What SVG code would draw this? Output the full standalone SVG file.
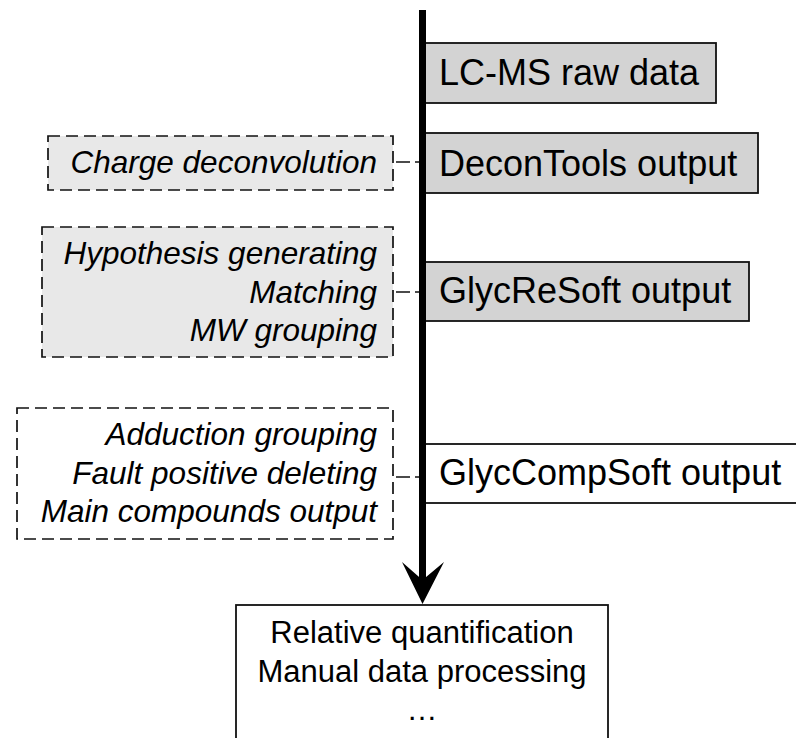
<svg xmlns="http://www.w3.org/2000/svg" width="796" height="738" viewBox="0 0 796 738">
<style>
  .out { fill: #d3d3d3; stroke: #111; stroke-width: 1.8; }
  .wbox { fill: #ffffff; stroke: #111; stroke-width: 1.8; }
  .dash { fill: #e8e8e8; stroke: #111; stroke-width: 1.7; stroke-dasharray: 12 6; }
  .dashw { fill: #ffffff; stroke: #111; stroke-width: 1.7; stroke-dasharray: 12 6; }
  .lbl { font-family: "Liberation Sans", Arial, sans-serif; font-size: 36px; fill: #000; }
  .it { font-family: "Liberation Sans", Arial, sans-serif; font-size: 31.5px; font-style: italic; fill: #000; text-anchor: end; }
  .bt { font-family: "Liberation Sans", Arial, sans-serif; font-size: 31px; fill: #000; text-anchor: middle; }
  .conn { stroke: #111; stroke-width: 1.7; stroke-dasharray: 14 5; fill: none; }
</style>

<g id="lcms">
  <rect class="out" x="422" y="43" width="294" height="60"/>
  <text class="lbl" x="439" y="85">LC-MS raw data</text>
</g>
<g id="decontools">
  <rect class="out" x="422" y="133" width="336" height="60"/>
  <text class="lbl" x="439" y="176">DeconTools output</text>
</g>
<g id="glycresoft">
  <rect class="out" x="422" y="262" width="327" height="59"/>
  <text class="lbl" x="439" y="303">GlycReSoft output</text>
</g>
<g id="glyccompsoft">
  <rect class="wbox" x="422" y="444" width="390" height="59"/>
  <text class="lbl" x="439" y="485">GlycCompSoft output</text>
</g>
<g id="final">
  <rect class="wbox" x="236" y="605" width="372" height="150"/>
  <text class="bt" x="422" y="643">Relative quantification</text>
  <text class="bt" x="422" y="682">Manual data processing</text>
  <text class="bt" x="422" y="720">…</text>
</g>

<g id="step-charge">
  <rect class="dash" x="48" y="136" width="345" height="54"/>
  <text class="it" x="377" y="173">Charge deconvolution</text>
</g>
<g id="step-glycresoft">
  <rect class="dash" x="42" y="227" width="351" height="130"/>
  <text class="it" x="377" y="264">Hypothesis generating</text>
  <text class="it" x="377" y="303">Matching</text>
  <text class="it" x="377" y="341">MW grouping</text>
</g>
<g id="step-glyccomp">
  <rect class="dashw" x="17" y="408" width="376" height="131"/>
  <text class="it" x="377" y="445">Adduction grouping</text>
  <text class="it" x="377" y="484">Fault positive deleting</text>
  <text class="it" x="377" y="522">Main compounds output</text>
</g>

<g id="connectors">
  <line class="conn" x1="396" y1="162" x2="420" y2="162"/>
  <line class="conn" x1="396" y1="292" x2="420" y2="292"/>
  <line class="conn" x1="396" y1="477" x2="420" y2="477"/>
  <line x1="422.5" y1="10" x2="422.5" y2="585" stroke="#000" stroke-width="7"/>
  <path d="M422.5 604 L402 562 L422.5 580 L444 562 Z" fill="#000"/>
</g>
</svg>
